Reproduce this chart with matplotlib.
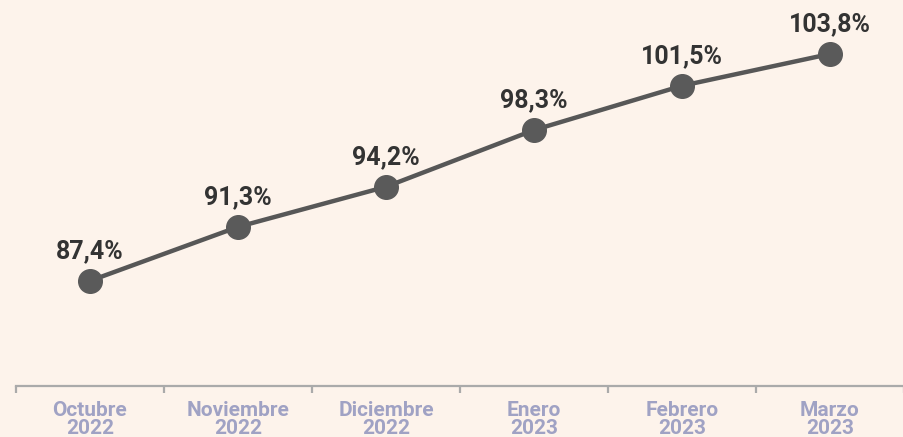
import matplotlib.pyplot as plt

months = ["Octubre\n2022", "Noviembre\n2022", "Diciembre\n2022",
          "Enero\n2023", "Febrero\n2023", "Marzo\n2023"]
values = [87.4, 91.3, 94.2, 98.3, 101.5, 103.8]
labels = ["87,4%", "91,3%", "94,2%", "98,3%", "101,5%", "103,8%"]

bg = "#fdf3eb"
plt.rcParams['font.family'] = ['Roboto', 'DejaVu Sans']

fig = plt.figure(figsize=(9.04, 4.37), dpi=100, facecolor=bg)
ax = fig.add_axes([16/904, 51/437, 888/904, 386/437])
ax.set_facecolor(bg)

x = list(range(len(values)))
ax.plot(x, values, color="#575757", lw=3.2, marker="o", ms=17,
        markerfacecolor="#5a5a5a", markeredgecolor="#5a5a5a", clip_on=False)

for xi, v, t in zip(x, values, labels):
    ax.annotate(t, (xi, v), xytext=(0, 21.5), textcoords="offset points",
                ha="center", va="center", fontsize=18, fontweight="bold",
                color="#333333")

ax.set_xlim(-0.5, -0.5 + 888/150.0)
ax.set_ylim(79.8, 107.7)

for s in ["top", "right", "left"]:
    ax.spines[s].set_visible(False)
ax.spines["bottom"].set_color("#aaaaaa")
ax.spines["bottom"].set_linewidth(1.6)
ax.set_yticks([])

ax.set_xticks([i - 0.5 for i in range(len(values) + 1)])
ax.set_xticklabels([])
ax.set_xticks(x, minor=True)
ax.set_xticklabels(months, minor=True, fontsize=15, fontweight="bold",
                   color="#a0a2c4", linespacing=0.9)
ax.tick_params(axis="x", which="major", length=5, width=1.6, color="#aaaaaa")
ax.tick_params(axis="x", which="minor", length=0, pad=11)

fig.savefig("out.png", dpi=100, facecolor=bg)
